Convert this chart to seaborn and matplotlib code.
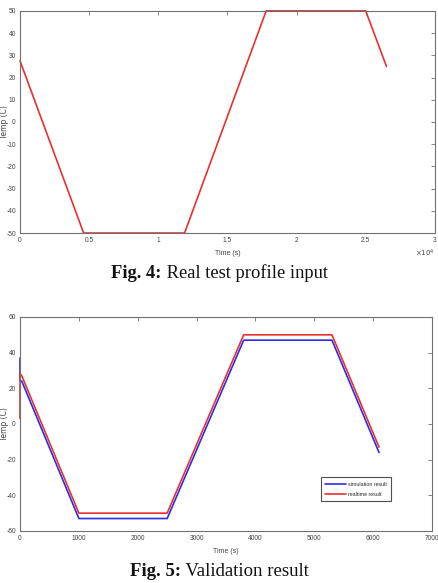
import matplotlib
matplotlib.use("Agg")
import matplotlib.pyplot as plt
import seaborn as sns
import pandas as pd

# ---- data ----
profile_time_e4 = [0.0, 0.46, 1.19, 1.78, 2.50, 2.65]
profile_temp = [27.5, -50, -50, 50, 50, 25]

sim_time = [0, 0, 30, 1000, 2500, 3800, 5300, 6100]
sim_temp = [37, 24.5, 24, -53, -53, 47, 47, -16]
real_time = [0, 0, 30, 1000, 2500, 3800, 5300, 6100]
real_temp = [3, 28.5, 27, -50, -50, 50, 50, -13]

top_xticks = [0, 0.5, 1, 1.5, 2, 2.5, 3]
top_yticks = list(range(-50, 51, 10))
bot_xticks = list(range(0, 7001, 1000))
bot_yticks = list(range(-60, 61, 20))

sns.set_style("white")
plt.rcParams['font.family'] = ['Liberation Sans', 'DejaVu Sans']
plt.rcParams['axes.unicode_minus'] = False

RED = "#e8302f"
BLUE = "#2b2bea"
SPINE = "#707070"

fig = plt.figure(figsize=(4.39, 5.83), dpi=100)

def style_ax(ax):
    for s in ax.spines.values():
        s.set_color(SPINE)
        s.set_linewidth(0.8)
        s.set_visible(True)
    ax.tick_params(direction="in", length=3, width=0.6, color=SPINE,
                   labelsize=4.8, labelcolor="#444444", top=True, right=True,
                   pad=3)
    for ln in ax.get_lines():
        ln.set_clip_on(False)

# ---- top chart ----
ax1 = fig.add_axes([0.0456, 0.6003, 0.945, 0.381])
df1 = pd.DataFrame({"t": profile_time_e4, "T": profile_temp})
sns.lineplot(data=df1, x="t", y="T", ax=ax1, color=RED, linewidth=1.2,
             sort=False, estimator=None)
ax1.set_xlim(0, 3)
ax1.set_ylim(-50, 50)
ax1.set_xticks(top_xticks)
ax1.set_xticklabels([("%g" % v) for v in top_xticks])
ax1.set_yticks(top_yticks)
style_ax(ax1)
ax1.set_xlabel("Time (s)", fontsize=5, color="#444444", labelpad=4)
ax1.set_ylabel("Temp (C)", fontsize=5.5, color="#444444",
               family=["DejaVu Sans"])
ax1.yaxis.set_label_coords(-0.026, 0.5)
ax1.text(1.0, -0.09, r"$\times10^4$", transform=ax1.transAxes, fontsize=5,
         ha="right", va="center", color="#444444")

# ---- bottom chart ----
ax2 = fig.add_axes([0.0456, 0.0892, 0.9385, 0.3671])
df_sim = pd.DataFrame({"t": sim_time, "T": sim_temp})
df_real = pd.DataFrame({"t": real_time, "T": real_temp})
sns.lineplot(data=df_sim, x="t", y="T", ax=ax2, color=BLUE, linewidth=1.2,
             sort=False, estimator=None, label="simulation result")
sns.lineplot(data=df_real, x="t", y="T", ax=ax2, color=RED, linewidth=1.2,
             sort=False, estimator=None, label="realtime result")
ax2.set_xlim(0, 7000)
ax2.set_ylim(-60, 60)
ax2.set_xticks(bot_xticks)
ax2.set_yticks(bot_yticks)
style_ax(ax2)
ax2.set_xlabel("Time (s)", fontsize=5, color="#444444", labelpad=4)
ax2.set_ylabel("Temp (C)", fontsize=5.5, color="#444444",
               family=["DejaVu Sans"])
ax2.yaxis.set_label_coords(-0.026, 0.5)
leg = ax2.legend(loc="lower right", bbox_to_anchor=(0.9, 0.14), fontsize=3.8,
                 frameon=True, fancybox=False, handlelength=4.0,
                 borderpad=0.8, labelspacing=1.0, handletextpad=0.3,
                 borderaxespad=0)
leg.get_frame().set_edgecolor("#222222")
leg.get_frame().set_linewidth(0.8)

# ---- captions ----
def caption(y, bold, normal, size):
    fig.canvas.draw()
    r = fig.canvas.get_renderer()
    fam = ["Liberation Serif", "DejaVu Serif"]
    t1 = fig.text(0, y, bold, fontsize=size, fontweight="bold", family=fam,
                  ha="left", va="center", color="#111111")
    t2 = fig.text(0, y, normal, fontsize=size, family=fam,
                  ha="left", va="center", color="#111111")
    w1 = t1.get_window_extent(r).width
    w2 = t2.get_window_extent(r).width
    W = fig.bbox.width
    x0 = (W - (w1 + w2)) / 2.0
    t1.set_x(x0 / W)
    t2.set_x((x0 + w1) / W)

caption(1 - 273 / 583, "Fig. 4:", " Real test profile input", 13.3)
caption(1 - 571 / 583, "Fig. 5:", " Validation result", 13.5)

fig.savefig("out.png", dpi=100)
